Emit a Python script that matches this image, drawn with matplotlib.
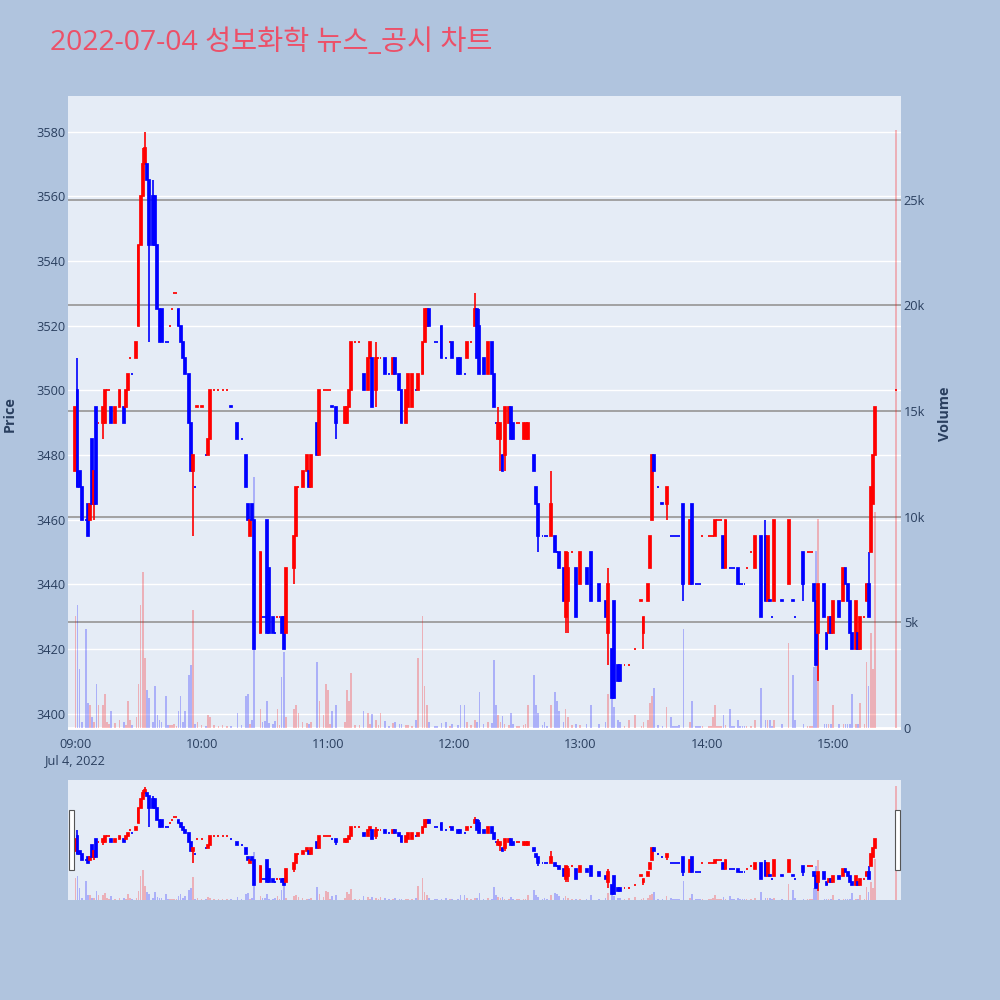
import matplotlib
matplotlib.use('Agg')
import matplotlib.pyplot as plt
from matplotlib.patches import Rectangle

# minutes after 09:00, one candle per traded minute
minutes = [0, 1, 2, 3, 5, 6, 7, 8, 9, 10,
           11, 13, 14, 15, 16, 17, 19, 21, 23, 24,
           25, 26, 27, 29, 30, 31, 32, 33, 34, 35,
           37, 38, 39, 40, 41, 43, 44, 45, 46, 47,
           48, 49, 50, 51, 52, 54, 55, 56, 57, 58,
           60, 62, 63, 64, 66, 68, 70, 72, 74, 77,
           79, 81, 82, 83, 84, 85, 88, 89, 90, 91,
           92, 94, 95, 96, 97, 98, 99, 100, 104, 105,
           106, 108, 110, 111, 112, 115, 116, 118, 119, 120,
           121, 122, 124, 128, 129, 130, 131, 133, 135, 137,
           139, 140, 141, 143, 144, 145, 147, 149, 151, 152,
           154, 155, 157, 158, 160, 162, 163, 165, 166, 167,
           168, 171, 172, 174, 176, 178, 179, 182, 183, 185,
           186, 188, 190, 191, 192, 194, 196, 198, 199, 200,
           201, 202, 203, 204, 206, 207, 208, 210, 211, 213,
           214, 215, 218, 219, 220, 222, 223, 224, 226, 228,
           229, 230, 232, 233, 234, 236, 238, 240, 243, 245,
           249, 252, 253, 255, 256, 258, 259, 261, 263, 266,
           269, 270, 272, 273, 274, 275, 277, 279, 281, 283,
           284, 285, 286, 287, 289, 292, 293, 295, 296, 297,
           298, 301, 302, 303, 304, 305, 306, 307, 308, 309,
           311, 312, 313, 315, 316, 317, 318, 319, 321, 323,
           326, 328, 329, 330, 331, 332, 336, 339, 341, 342,
           346, 348, 349, 350, 351, 352, 353, 356, 357, 358,
           359, 360, 363, 365, 366, 367, 368, 369, 371, 372,
           373, 375, 376, 377, 378, 379, 380, 390]

opens = [3475, 3500, 3475, 3470, 3460, 3465, 3460, 3485, 3465, 3495,
         3490, 3490, 3490, 3500, 3500, 3495, 3490, 3495, 3495, 3495,
         3500, 3510, 3505, 3510, 3520, 3545, 3560, 3570, 3570, 3565,
         3560, 3560, 3545, 3525, 3525, 3515, 3515, 3520, 3525, 3530,
         3530, 3525, 3520, 3515, 3510, 3505, 3490, 3475, 3470, 3495,
         3495, 3480, 3480, 3485, 3500, 3500, 3500, 3500, 3495, 3490,
         3485, 3480, 3465, 3455, 3465, 3460, 3425, 3430, 3430, 3460,
         3445, 3430, 3425, 3430, 3430, 3430, 3430, 3425, 3445, 3455,
         3470, 3470, 3475, 3475, 3470, 3490, 3480, 3500, 3500, 3500,
         3500, 3495, 3495, 3490, 3490, 3495, 3500, 3515, 3515, 3505,
         3500, 3510, 3510, 3500, 3510, 3510, 3510, 3505, 3505, 3510,
         3505, 3500, 3490, 3495, 3495, 3500, 3500, 3505, 3515, 3520,
         3525, 3515, 3515, 3520, 3510, 3515, 3515, 3510, 3510, 3505,
         3510, 3515, 3520, 3525, 3520, 3510, 3505, 3515, 3505, 3490,
         3485, 3485, 3480, 3480, 3490, 3495, 3490, 3490, 3490, 3485,
         3485, 3485, 3480, 3470, 3465, 3455, 3455, 3455, 3455, 3455,
         3450, 3450, 3445, 3430, 3435, 3450, 3445, 3440, 3445, 3450,
         3440, 3435, 3425, 3420, 3435, 3415, 3415, 3415, 3415, 3420,
         3435, 3425, 3435, 3445, 3460, 3480, 3470, 3465, 3465, 3455,
         3455, 3455, 3455, 3455, 3465, 3440, 3465, 3440, 3440, 3440,
         3455, 3455, 3455, 3455, 3455, 3460, 3460, 3460, 3455, 3445,
         3445, 3445, 3445, 3445, 3440, 3440, 3440, 3445, 3450, 3445,
         3455, 3455, 3435, 3435, 3430, 3435, 3435, 3440, 3435, 3430,
         3450, 3450, 3450, 3450, 3440, 3435, 3425, 3440, 3425, 3425,
         3430, 3425, 3435, 3435, 3445, 3440, 3435, 3425, 3420, 3425,
         3420, 3430, 3435, 3440, 3450, 3465, 3480, 3500]

highs = [3495, 3510, 3475, 3470, 3460, 3465, 3465, 3485, 3475, 3495,
         3490, 3495, 3500, 3500, 3500, 3495, 3495, 3500, 3495, 3500,
         3505, 3510, 3505, 3515, 3545, 3560, 3575, 3580, 3570, 3565,
         3565, 3560, 3545, 3525, 3525, 3515, 3515, 3520, 3525, 3530,
         3530, 3525, 3520, 3515, 3510, 3505, 3490, 3480, 3470, 3495,
         3495, 3480, 3485, 3500, 3500, 3500, 3500, 3500, 3495, 3490,
         3485, 3480, 3465, 3460, 3465, 3460, 3450, 3430, 3430, 3460,
         3445, 3430, 3425, 3430, 3430, 3430, 3430, 3445, 3455, 3470,
         3470, 3475, 3480, 3475, 3480, 3490, 3500, 3500, 3500, 3500,
         3500, 3495, 3495, 3495, 3495, 3500, 3515, 3515, 3515, 3505,
         3510, 3515, 3510, 3515, 3510, 3510, 3510, 3505, 3510, 3510,
         3505, 3500, 3500, 3505, 3505, 3500, 3505, 3515, 3525, 3525,
         3525, 3515, 3515, 3520, 3510, 3515, 3515, 3510, 3510, 3505,
         3515, 3515, 3530, 3525, 3525, 3510, 3515, 3515, 3505, 3490,
         3495, 3490, 3480, 3495, 3495, 3495, 3490, 3490, 3490, 3490,
         3490, 3490, 3480, 3470, 3465, 3455, 3455, 3455, 3475, 3455,
         3450, 3450, 3445, 3450, 3450, 3450, 3445, 3450, 3445, 3450,
         3440, 3435, 3445, 3420, 3435, 3415, 3415, 3415, 3415, 3420,
         3435, 3430, 3440, 3455, 3480, 3480, 3470, 3465, 3470, 3455,
         3455, 3455, 3455, 3455, 3465, 3460, 3465, 3440, 3440, 3440,
         3455, 3455, 3455, 3455, 3460, 3460, 3460, 3460, 3455, 3460,
         3445, 3445, 3445, 3445, 3440, 3440, 3440, 3445, 3450, 3455,
         3455, 3460, 3455, 3435, 3430, 3460, 3435, 3460, 3435, 3430,
         3450, 3450, 3450, 3450, 3440, 3435, 3440, 3440, 3425, 3430,
         3430, 3435, 3435, 3445, 3445, 3440, 3435, 3425, 3435, 3425,
         3430, 3430, 3440, 3450, 3470, 3480, 3495, 3500]

lows = [3475, 3470, 3470, 3460, 3460, 3455, 3460, 3465, 3460, 3465,
        3490, 3485, 3490, 3500, 3500, 3490, 3490, 3495, 3490, 3495,
        3500, 3510, 3505, 3510, 3520, 3545, 3560, 3570, 3565, 3515,
        3545, 3545, 3525, 3515, 3515, 3515, 3515, 3520, 3525, 3530,
        3530, 3520, 3515, 3510, 3505, 3490, 3475, 3455, 3470, 3495,
        3495, 3480, 3480, 3485, 3500, 3500, 3500, 3500, 3495, 3485,
        3485, 3470, 3460, 3455, 3460, 3420, 3425, 3430, 3430, 3425,
        3425, 3425, 3425, 3430, 3430, 3425, 3420, 3425, 3440, 3455,
        3470, 3470, 3475, 3470, 3470, 3480, 3480, 3500, 3500, 3500,
        3500, 3495, 3485, 3490, 3490, 3495, 3500, 3515, 3515, 3500,
        3500, 3510, 3495, 3495, 3510, 3510, 3505, 3505, 3505, 3505,
        3500, 3490, 3490, 3495, 3495, 3500, 3500, 3505, 3515, 3520,
        3520, 3515, 3515, 3510, 3510, 3515, 3510, 3505, 3505, 3505,
        3510, 3515, 3520, 3510, 3505, 3505, 3505, 3505, 3495, 3490,
        3485, 3475, 3475, 3475, 3490, 3485, 3485, 3490, 3490, 3485,
        3485, 3485, 3475, 3465, 3450, 3455, 3455, 3455, 3455, 3450,
        3450, 3445, 3435, 3425, 3425, 3450, 3430, 3440, 3440, 3435,
        3435, 3430, 3415, 3405, 3405, 3410, 3410, 3415, 3415, 3420,
        3435, 3420, 3435, 3445, 3460, 3475, 3470, 3465, 3460, 3455,
        3455, 3455, 3455, 3455, 3435, 3440, 3440, 3440, 3440, 3440,
        3455, 3455, 3455, 3455, 3455, 3460, 3460, 3460, 3445, 3445,
        3445, 3445, 3445, 3440, 3440, 3440, 3440, 3445, 3450, 3445,
        3430, 3435, 3435, 3435, 3430, 3435, 3435, 3440, 3435, 3430,
        3435, 3450, 3450, 3450, 3435, 3415, 3410, 3430, 3420, 3425,
        3425, 3425, 3430, 3435, 3440, 3435, 3425, 3420, 3420, 3420,
        3420, 3430, 3435, 3430, 3450, 3465, 3480, 3500]

closes = [3495, 3470, 3470, 3460, 3460, 3455, 3465, 3465, 3475, 3465,
          3490, 3495, 3500, 3500, 3500, 3490, 3495, 3500, 3490, 3500,
          3505, 3510, 3505, 3515, 3545, 3560, 3570, 3575, 3565, 3545,
          3545, 3545, 3525, 3515, 3515, 3515, 3515, 3520, 3525, 3530,
          3530, 3520, 3515, 3510, 3505, 3490, 3475, 3480, 3470, 3495,
          3495, 3480, 3485, 3500, 3500, 3500, 3500, 3500, 3495, 3485,
          3485, 3470, 3460, 3460, 3460, 3420, 3450, 3430, 3430, 3425,
          3425, 3425, 3425, 3430, 3430, 3425, 3420, 3445, 3455, 3470,
          3470, 3475, 3480, 3470, 3480, 3480, 3500, 3500, 3500, 3500,
          3500, 3495, 3490, 3495, 3495, 3500, 3515, 3515, 3515, 3500,
          3510, 3515, 3495, 3510, 3510, 3510, 3505, 3505, 3510, 3505,
          3500, 3490, 3500, 3505, 3505, 3500, 3505, 3515, 3525, 3525,
          3520, 3515, 3515, 3510, 3510, 3515, 3510, 3505, 3505, 3505,
          3515, 3515, 3525, 3510, 3505, 3505, 3515, 3505, 3495, 3490,
          3490, 3490, 3475, 3495, 3495, 3485, 3485, 3490, 3490, 3490,
          3490, 3490, 3475, 3465, 3455, 3455, 3455, 3455, 3465, 3450,
          3450, 3445, 3435, 3450, 3445, 3450, 3430, 3450, 3440, 3435,
          3435, 3430, 3440, 3405, 3405, 3410, 3410, 3415, 3415, 3420,
          3435, 3430, 3440, 3455, 3480, 3475, 3470, 3465, 3470, 3455,
          3455, 3455, 3455, 3455, 3440, 3460, 3440, 3440, 3440, 3440,
          3455, 3455, 3455, 3455, 3460, 3460, 3460, 3460, 3445, 3460,
          3445, 3445, 3445, 3440, 3440, 3440, 3440, 3445, 3450, 3455,
          3430, 3435, 3455, 3435, 3430, 3460, 3435, 3460, 3435, 3430,
          3440, 3450, 3450, 3450, 3435, 3415, 3440, 3430, 3420, 3430,
          3425, 3435, 3430, 3445, 3440, 3435, 3425, 3420, 3435, 3420,
          3430, 3430, 3440, 3430, 3470, 3480, 3495, 3500]

volumes = [5300, 5800, 2800, 300, 4700, 1200, 1100, 500, 300, 2100,
           1100, 1100, 1600, 300, 200, 800, 250, 400, 300, 150,
           1300, 400, 150, 500, 2100, 5800, 7400, 3300, 1800, 1400,
           300, 2000, 600, 400, 300, 1500, 150, 150, 150, 200,
           100, 800, 1500, 300, 800, 2500, 3000, 5600, 200, 300,
           150, 100, 600, 500, 150, 100, 150, 100, 100, 700,
           150, 1500, 1600, 200, 400, 11900, 900, 300, 350, 1300,
           250, 200, 350, 900, 150, 2400, 3600, 500, 900, 1100,
           700, 300, 250, 200, 300, 3100, 1300, 600, 2100, 1800,
           200, 800, 1100, 300, 1800, 1300, 2600, 150, 150, 800,
           700, 200, 650, 400, 150, 700, 350, 100, 250, 300,
           200, 200, 150, 150, 100, 400, 3300, 5300, 2000, 1100,
           300, 100, 100, 250, 300, 100, 200, 150, 1100, 1100,
           300, 150, 400, 300, 1700, 200, 300, 250, 3200, 1100,
           600, 300, 550, 200, 150, 700, 200, 100, 100, 150,
           200, 1100, 2500, 1100, 700, 150, 300, 100, 1100, 1700,
           1300, 800, 300, 900, 500, 150, 200, 150, 200, 1100,
           200, 300, 1600, 2200, 1000, 400, 300, 100, 400, 600,
           100, 300, 400, 1200, 1500, 1900, 150, 100, 1000, 500,
           100, 100, 100, 150, 4700, 300, 1300, 100, 100, 100,
           100, 100, 100, 500, 1100, 100, 100, 100, 600, 150,
           900, 100, 100, 400, 100, 100, 100, 100, 100, 400,
           1900, 400, 400, 400, 100, 400, 200, 4000, 2500, 400,
           200, 100, 100, 100, 2900, 8400, 9900, 200, 200, 200,
           200, 1100, 200, 200, 200, 200, 200, 1600, 200, 200,
           1200, 200, 3100, 2000, 4500, 2800, 10200, 28300]

hour_ticks = [0, 60, 120, 180, 240, 300, 360]
hour_labels = ['09:00\nJul 4, 2022', '10:00', '11:00', '12:00', '13:00', '14:00', '15:00']
price_ticks = [3400, 3420, 3440, 3460, 3480, 3500, 3520, 3540, 3560, 3580]
vol_ticks = [0, 5000, 10000, 15000, 20000, 25000]
vol_labels = ['0', '5k', '10k', '15k', '20k', '25k']

UP, DOWN = '#ff0000', '#0000ff'
BG, PLOT_BG, FONT_C = '#b0c4de', '#e5ecf6', '#2a3f5f'
XLIM = (-3.5, 392.4)
PLIM = (3395, 3591)
VLIM = (-95, 29910)

plt.rcParams['font.family'] = ['Open Sans', 'DejaVu Sans']


def candle_up(o, c):
    # doji takes its colour from the previous close, like plotly
    res, prev_c, prev_up = [], None, True
    for oo, cc in zip(o, c):
        if cc != oo:
            up = cc > oo
        elif prev_c is not None and cc != prev_c:
            up = cc > prev_c
        else:
            up = prev_up
        res.append(up)
        prev_c, prev_up = cc, up
    return res


ups = candle_up(opens, closes)
cols = [UP if u else DOWN for u in ups]


def draw_candles(ax):
    ax.vlines(minutes, lows, highs, colors=cols, linewidth=1.2, zorder=3)
    bottoms = [min(o, c) for o, c in zip(opens, closes)]
    heights = [max(abs(c - o), 0.05) for o, c in zip(opens, closes)]
    ax.bar(minutes, heights, bottom=bottoms, width=0.9, color=cols,
           edgecolor=cols, linewidth=1.25, zorder=4)


def draw_volume(ax):
    ax.bar(minutes, volumes, width=0.8, color=cols, alpha=0.25, linewidth=0, zorder=2)


fig = plt.figure(figsize=(10, 10), dpi=100, facecolor=BG)

# main chart
ax = fig.add_axes([0.068, 0.270, 0.833, 0.634])
ax.set_facecolor(PLOT_BG)
ax.set_xlim(*XLIM)
ax.set_ylim(*PLIM)
ax.set_yticks(price_ticks)
ax.set_yticklabels([str(p) for p in price_ticks])
ax.set_xticks(hour_ticks)
ax.set_xticklabels(hour_labels, linespacing=1.3)
ax.tick_params(length=0, labelsize=9.2, labelcolor=FONT_C)
ax.tick_params(axis='y', pad=2)
ax.tick_params(axis='x', pad=6)
ax.grid(axis='y', color='white', linewidth=1.0)
ax.set_axisbelow(True)
for s in ax.spines.values():
    s.set_visible(False)

axv = ax.twinx()
axv.set_ylim(*VLIM)
axv.set_yticks(vol_ticks)
axv.set_yticklabels(vol_labels)
axv.tick_params(length=0, labelsize=9.2, labelcolor=FONT_C, pad=2)
for v in vol_ticks[1:]:
    axv.axhline(v, color='#9c9c9c', linewidth=1.3, zorder=1)
axv.axhline(0, color='white', linewidth=2, zorder=1)
draw_volume(axv)
for s in axv.spines.values():
    s.set_visible(False)

axc = ax.twinx()
axc.set_ylim(*PLIM)
axc.axis('off')
draw_candles(axc)

fig.text(0.010, 1 - 0.414, 'Price', rotation=90, ha='center', va='center',
         fontsize=10.4, fontweight='bold', color=FONT_C)
fig.text(0.945, 1 - 0.414, 'Volume', rotation=90, ha='center', va='center',
         fontsize=10.4, fontweight='bold', color=FONT_C)

fig.text(0.050, 1 - 0.043, '2022-07-04 성보화학 뉴스_공시 차트', ha='left', va='center',
         fontsize=20.4, color='#ec5068', family=['Open Sans', 'Noto Sans CJK KR'])

# range slider
axs = fig.add_axes([0.068, 0.100, 0.833, 0.120])
axs.set_facecolor(PLOT_BG)
axs.set_xlim(*XLIM)
axs.set_ylim(*VLIM)
draw_volume(axs)
axs.set_xticks([])
axs.set_yticks([])
for s in axs.spines.values():
    s.set_visible(False)
axs2 = axs.twinx()
axs2.set_ylim(*PLIM)
axs2.axis('off')
draw_candles(axs2)

for xl in (0.069, 0.895):
    fig.add_artist(Rectangle((xl, 1 - 0.870), 0.0045, 0.060, transform=fig.transFigure,
                             facecolor='white', edgecolor='#555555', linewidth=0.8))

fig.savefig('out.png', dpi=100, facecolor=BG)
